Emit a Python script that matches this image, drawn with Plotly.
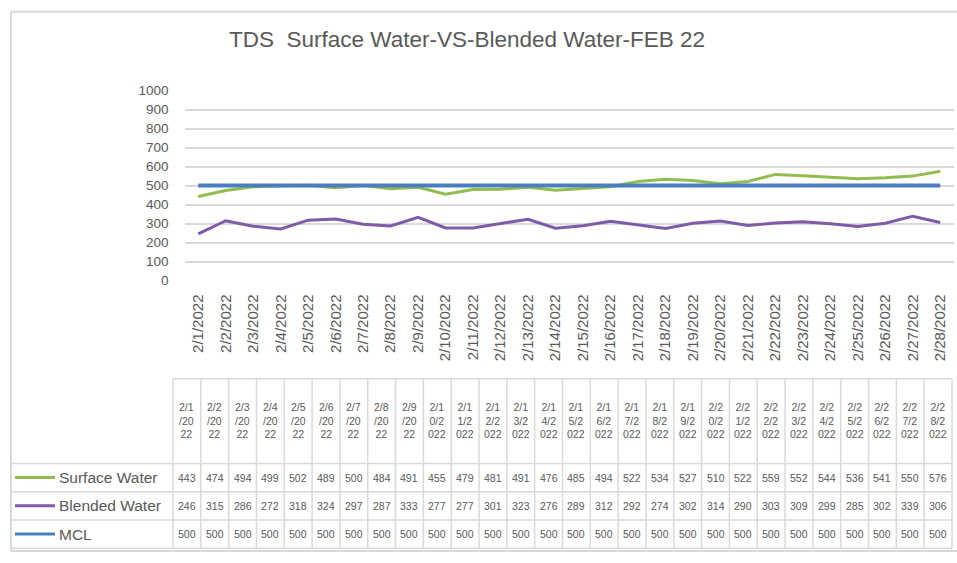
import plotly.graph_objects as go

W, H = 957, 563

dates = [f"2/{d}/2022" for d in range(1, 29)]
surface = [443, 474, 494, 499, 502, 489, 500, 484, 491, 455, 479, 481, 491, 476,
           485, 494, 522, 534, 527, 510, 522, 559, 552, 544, 536, 541, 550, 576]
blended = [246, 315, 286, 272, 318, 324, 297, 287, 333, 277, 277, 301, 323, 276,
           289, 312, 292, 274, 302, 314, 290, 303, 309, 299, 285, 302, 339, 306]
mcl = [500] * 28
series_names = ["Surface Water", "Blended Water", "MCL"]
series_vals = [surface, blended, mcl]
colors = ["#92BD4E", "#7E5BA8", "#4A7EC1"]
widths = [3, 3, 4]
yticks = list(range(0, 1001, 100))

TXT = "#595959"
GRID = "#D9D9D9"
FONT = "Liberation Sans"


def px(x):
    return min(max(x / W, 0), 1)


def py(y):
    return min(max(1 - y / H, 0), 1)


n = len(dates)
fig = go.Figure()
for name, vals, c, w in zip(series_names, series_vals, colors, widths):
    fig.add_trace(go.Scatter(x=list(range(n)), y=vals, mode="lines", name=name,
                             line=dict(color=c, width=w), showlegend=False,
                             hoverinfo="x+y"))

shapes = []
annotations = []

# outer chart border (left, top, bottom)
for (x0, y0, x1, y1) in [(11, 5, 11, 559), (11, 5, 960, 5), (11, 559, 960, 559)]:
    shapes.append(dict(type="line", xref="paper", yref="paper", x0=px(x0), x1=px(x1),
                       y0=py(y0), y1=py(y1), line=dict(color=GRID, width=2)))

# data table geometry
tx0, tx1 = 173, 952
cw = (tx1 - tx0) / n
y_head_top, y_head_bot = 382, 469
row_edges = [469, 498, 527, 556]
lc = "#D9D9D9"

shapes.append(dict(type="line", xref="paper", yref="paper", x0=px(tx0), x1=px(tx1),
                   y0=py(y_head_top), y1=py(y_head_top), line=dict(color=lc, width=1.5)))
for ye in row_edges:
    shapes.append(dict(type="line", xref="paper", yref="paper", x0=px(12), x1=px(tx1),
                       y0=py(ye), y1=py(ye), line=dict(color=lc, width=1.5)))
for i in range(n + 1):
    xx = tx0 + i * cw
    shapes.append(dict(type="line", xref="paper", yref="paper", x0=px(xx), x1=px(xx),
                       y0=py(y_head_top), y1=py(row_edges[-1]), line=dict(color=lc, width=1.5)))


def wrap(s, k=3):
    return "<br>".join(s[i:i + k] for i in range(0, len(s), k))


for i, d in enumerate(dates):
    xc = tx0 + (i + 0.5) * cw
    annotations.append(dict(x=px(xc), y=py((y_head_top + y_head_bot) / 2 - 1),
                            xref="paper", yref="paper", text=wrap(d), showarrow=False,
                            xanchor="center", yanchor="middle",
                            font=dict(family=FONT, size=10.5, color=TXT)))

for r, (name, vals, c) in enumerate(zip(series_names, series_vals, colors)):
    yc = (row_edges[r] + row_edges[r + 1]) / 2
    shapes.append(dict(type="line", xref="paper", yref="paper", x0=px(15), x1=px(55),
                       y0=py(yc), y1=py(yc), line=dict(color=c, width=3)))
    annotations.append(dict(x=px(57), y=py(yc), xref="paper", yref="paper", text=name,
                            showarrow=False, xanchor="left", yanchor="middle",
                            font=dict(family=FONT, size=15.5, color=TXT)))
    for i, v in enumerate(vals):
        xc = tx0 + (i + 0.5) * cw
        annotations.append(dict(x=px(xc), y=py(yc), xref="paper", yref="paper",
                                text=str(v), showarrow=False, xanchor="center",
                                yanchor="middle",
                                font=dict(family=FONT, size=10.5, color=TXT)))

fig.update_layout(
    width=W, height=H,
    margin=dict(l=0, r=0, t=0, b=0),
    paper_bgcolor="white", plot_bgcolor="white",
    title=dict(text="TDS  Surface Water-VS-Blended Water-FEB 22",
               x=px(467), y=py(39), xanchor="center", yanchor="middle",
               font=dict(family=FONT, size=22.5, color=TXT)),
    xaxis=dict(domain=[px(184.5), px(954)], range=[-0.5, n - 0.5],
               tickmode="array", tickvals=list(range(n)), ticktext=dates,
               tickangle=-90, showgrid=False, zeroline=False, showline=False,
               ticks="", ticklabelstandoff=10,
               tickfont=dict(family=FONT, size=15, color=TXT)),
    yaxis=dict(domain=[py(281), py(86)], range=[0, 1000],
               tickmode="array", tickvals=yticks,
               showgrid=True, gridcolor=GRID, gridwidth=1.5, zeroline=False,
               showline=False, ticks="", ticklabelstandoff=15,
               tickfont=dict(family=FONT, size=13.5, color=TXT)),
    shapes=shapes,
    annotations=annotations,
    showlegend=False,
)

fig.write_html("out.html", config={"displayModeBar": False},
               post_script="document.body.style.margin='0';"
                           "document.body.style.overflow='hidden';")
